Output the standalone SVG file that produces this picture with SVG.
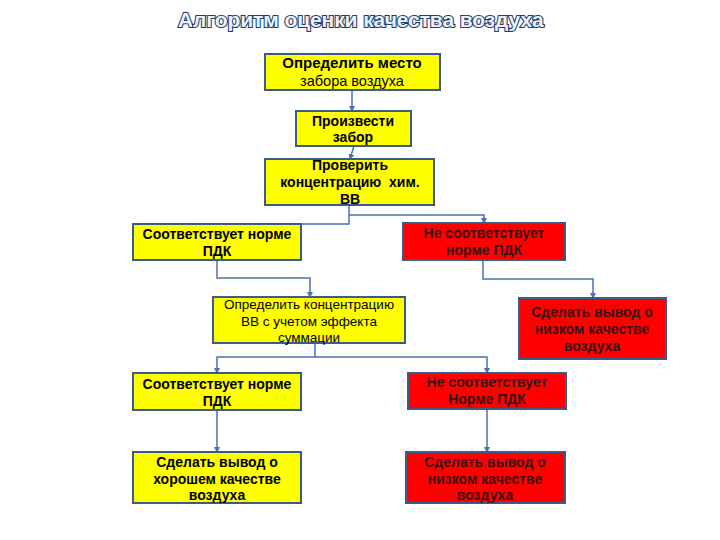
<svg xmlns="http://www.w3.org/2000/svg" width="720" height="540" viewBox="0 0 720 540">
<style>
.y{fill:#FFFF00;stroke:#385D8A;stroke-width:2}
.r{fill:#FF0000;stroke:#385D8A;stroke-width:2}
.t{font-family:"Liberation Sans",Arial,sans-serif;font-size:14px;font-weight:bold;text-anchor:middle;fill:#000;white-space:pre}
.tn{font-family:"Liberation Sans",Arial,sans-serif;font-size:13.5px;text-anchor:middle;fill:#000}
.tr{font-family:"Liberation Sans",Arial,sans-serif;font-size:14px;font-weight:bold;text-anchor:middle;fill:#3a1010}
.c{fill:none;stroke:#4A72B0;stroke-width:1.5}
.title{font-family:"Liberation Sans",Arial,sans-serif;font-size:21px;font-weight:bold;text-anchor:middle;fill:#EAF2FB;stroke:#1F3F6E;stroke-width:2.2;paint-order:stroke;letter-spacing:0.3px}
</style>
<defs>
<marker id="a" viewBox="0 0 6 6" refX="5" refY="3" markerWidth="4" markerHeight="4" orient="auto">
<path d="M0,0 L6,3 L0,6 z" fill="#4A72B0"/>
</marker>
</defs>
<rect width="720" height="540" fill="#fff"/>
<text class="title" x="361" y="27" textLength="366">Алгоритм оценки качества воздуха</text>
<g id="connectors">
<path class="c" d="M352,90 V111" marker-end="url(#a)"/>
<path class="c" d="M354,146 L350,159" marker-end="url(#a)"/>
<path class="c" d="M349,205 V224 H301"/>
<path class="c" d="M349,215 H484 V223" marker-end="url(#a)"/>
<path class="c" d="M217,260 V278 H310 V297" marker-end="url(#a)"/>
<path class="c" d="M483,260 V279 H593 V298" marker-end="url(#a)"/>
<path class="c" d="M315,343 V357 H217 V373" marker-end="url(#a)"/>
<path class="c" d="M315,357 H487 V373" marker-end="url(#a)"/>
<path class="c" d="M217,410 V452" marker-end="url(#a)"/>
<path class="c" d="M487,409 V452" marker-end="url(#a)"/>
</g>
<g id="n1"><rect class="y" x="265" y="54" width="175" height="36"/>
<text class="t" x="352" y="68" style="font-size:15px">Определить место</text>
<text class="tn" x="352" y="86" style="font-size:14.5px">забора воздуха</text></g>
<g id="n2"><rect class="y" x="296" y="111" width="115" height="35"/>
<text class="t" x="353" y="126">Произвести</text>
<text class="t" x="353" y="142">забор</text></g>
<g id="n3"><rect class="y" x="265" y="159" width="169" height="46"/>
<text class="t" x="350" y="170">Проверить</text>
<text class="t" x="350" y="187">концентрацию  хим.</text>
<text class="t" x="350" y="204">ВВ</text></g>
<g id="n4"><rect class="y" x="133" y="224" width="168" height="36"/>
<text class="t" x="217" y="239">Соответствует норме</text>
<text class="t" x="217" y="256">ПДК</text></g>
<g id="n5"><rect class="r" x="403" y="223" width="162" height="37"/>
<text class="tr" x="484" y="238">Не соответствует</text>
<text class="tr" x="484" y="255">норме ПДК</text></g>
<g id="n6"><rect class="y" x="213" y="297" width="192" height="46"/>
<text class="tn" x="309" y="309">Определить концентрацию</text>
<text class="tn" x="309" y="326">ВВ с учетом эффекта</text>
<text class="tn" x="309" y="342">суммации</text></g>
<g id="n7"><rect class="r" x="519" y="298" width="147" height="61"/>
<text class="tr" x="592" y="317">Сделать вывод о</text>
<text class="tr" x="592" y="334">низком качестве</text>
<text class="tr" x="592" y="351">воздуха</text></g>
<g id="n8"><rect class="y" x="133" y="373" width="168" height="37"/>
<text class="t" x="217" y="389">Соответствует норме</text>
<text class="t" x="217" y="406">ПДК</text></g>
<g id="n9"><rect class="r" x="408" y="373" width="158" height="36"/>
<text class="tr" x="487" y="387">Не соответствует</text>
<text class="tr" x="487" y="404">Норме ПДК</text></g>
<g id="n10"><rect class="y" x="133" y="452" width="168" height="51"/>
<text class="t" x="217" y="467">Сделать вывод о</text>
<text class="t" x="217" y="484">хорошем качестве</text>
<text class="t" x="217" y="500">воздуха</text></g>
<g id="n11"><rect class="r" x="406" y="452" width="159" height="51"/>
<text class="tr" x="485" y="467">Сделать вывод о</text>
<text class="tr" x="485" y="484">низком качестве</text>
<text class="tr" x="485" y="500">воздуха</text></g>
</svg>
